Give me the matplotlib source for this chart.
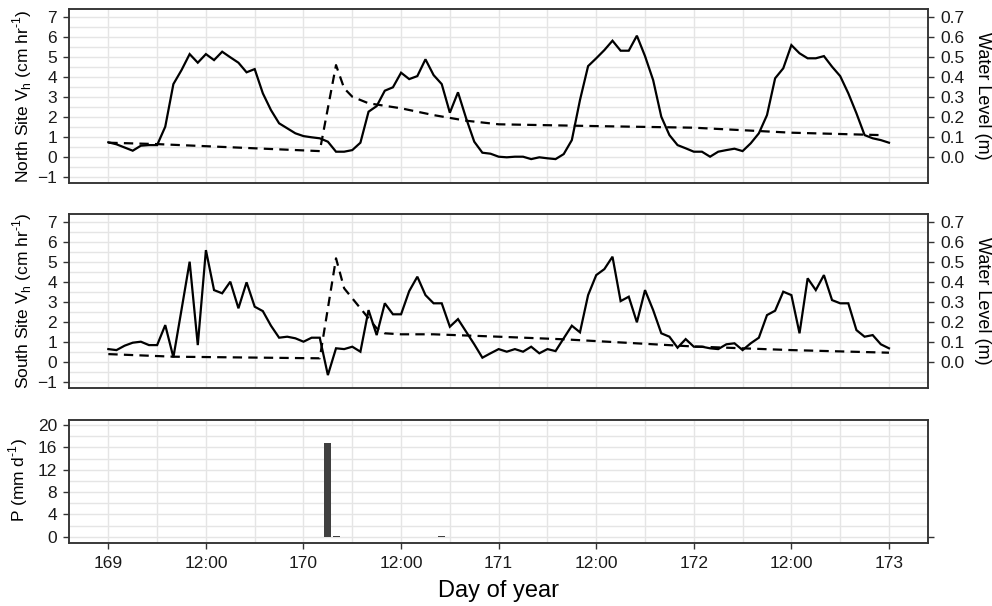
import numpy as np
import matplotlib
matplotlib.use("Agg")
import matplotlib.pyplot as plt
from matplotlib.ticker import MultipleLocator

plt.rcParams['font.family'] = ['Liberation Sans', 'DejaVu Sans']
plt.rcParams['mathtext.fontset'] = 'custom'
plt.rcParams['mathtext.rm'] = 'Liberation Sans'

# hourly sap velocity (cm/hr), hour 0 = day 169 00:00
hours = np.arange(97)
north_vh = [0.72, 0.62, 0.46, 0.30, 0.55, 0.58, 0.58, 1.5, 3.63, 4.33,
            5.13, 4.7, 5.13, 4.83, 5.25, 4.97, 4.7, 4.22, 4.38, 3.17,
            2.33, 1.67, 1.42, 1.17, 1.03, 0.97, 0.92, 0.75, 0.25, 0.25,
            0.33, 0.7, 2.25, 2.53, 3.3, 3.47, 4.2, 3.88, 4.03, 4.87,
            4.08, 3.63, 2.2, 3.22, 1.92, 0.75, 0.2, 0.15, 0.0, -0.03,
            0.0, 0.0, -0.12, -0.03, -0.08, -0.12, 0.13, 0.83, 2.83, 4.53,
            4.92, 5.33, 5.8, 5.3, 5.3, 6.05, 5.03, 3.83, 2.0, 1.08,
            0.58, 0.42, 0.25, 0.25, 0.0, 0.25, 0.33, 0.4, 0.28, 0.67,
            1.17, 2.08, 3.92, 4.42, 5.58, 5.17, 4.92, 4.92, 5.03, 4.5,
            4.03, 3.17, 2.17, 1.08, 0.92, 0.83, 0.7]
south_vh = [0.63, 0.58, 0.8, 0.95, 1.0, 0.83, 0.83, 1.83, 0.22, 2.6,
            5.0, 0.83, 5.58, 3.58, 3.42, 4.0, 2.67, 3.97, 2.75, 2.53,
            1.8, 1.2, 1.25, 1.17, 1.0, 1.2, 1.2, -0.67, 0.67, 0.63,
            0.75, 0.5, 2.58, 1.33, 2.92, 2.37, 2.37, 3.53, 4.25, 3.33,
            2.92, 2.92, 1.75, 2.13, 1.5, 0.87, 0.2, 0.42, 0.63, 0.5,
            0.63, 0.5, 0.75, 0.42, 0.63, 0.53, 1.17, 1.8, 1.47, 3.33,
            4.33, 4.63, 5.25, 3.03, 3.25, 1.97, 3.58, 2.58, 1.42, 1.25,
            0.7, 1.13, 0.75, 0.75, 0.67, 0.63, 0.87, 0.92, 0.58, 0.92,
            1.2, 2.33, 2.55, 3.5, 3.33, 1.42, 4.17, 3.58, 4.33, 3.08,
            2.92, 2.92, 1.58, 1.25, 1.33, 0.87, 0.67]

# water level (m)
north_wl_hours = [0, 6, 26, 28, 29, 30, 32, 36, 40, 44, 48, 60, 72, 84, 95]
north_wl = [0.070, 0.063, 0.028, 0.458, 0.342, 0.300, 0.267, 0.242, 0.208,
            0.180, 0.162, 0.153, 0.145, 0.120, 0.108]
south_wl_hours = [0, 8, 26, 28, 29, 30, 31, 32, 33, 34, 36, 40, 48, 56, 72,
                  84, 96]
south_wl = [0.038, 0.025, 0.017, 0.517, 0.367, 0.317, 0.267, 0.217, 0.167,
            0.142, 0.137, 0.137, 0.125, 0.112, 0.076, 0.058, 0.045]

# precipitation (mm/d)
p_hours = [27, 28, 41]
p_vals = [16.8, 0.2, 0.1]

xtick_pos = [169, 169.5, 170, 170.5, 171, 171.5, 172, 172.5, 173]
xtick_lab = ['169', '12:00', '170', '12:00', '171', '12:00', '172', '12:00', '173']


def day(h):
    return 169 + np.asarray(h) / 24.0


W, H = 992, 606
fig = plt.figure(figsize=(W / 100, H / 100), dpi=100)

frame = '#333333'
gridc = '#e5e5e5'
L, R = 69.3 / W, 928 / W


def style(ax, ymaj, ymin):
    ax.set_xlim(168.8, 173.2)
    ax.xaxis.set_major_locator(MultipleLocator(0.5))
    ax.xaxis.set_minor_locator(MultipleLocator(0.25))
    ax.yaxis.set_major_locator(MultipleLocator(ymaj))
    ax.yaxis.set_minor_locator(MultipleLocator(ymin))
    ax.grid(which='both', color=gridc, lw=1.0)
    ax.set_axisbelow(True)
    for s in ax.spines.values():
        s.set_color(frame)
        s.set_linewidth(1.1)
    ax.tick_params(which='minor', length=0)
    ax.tick_params(which='major', length=4.3, width=1.0, color=frame,
                   labelsize=12.5, pad=4.5, labelcolor='#1a1a1a')


sup = '$^{\\text{-1}}$'
panels = [
    (183.3, 'North Site V$_\\mathregular{h}$ (cm hr' + sup + ')', north_vh, north_wl_hours, north_wl),
    (388.3, 'South Site V$_\\mathregular{h}$ (cm hr' + sup + ')', south_vh, south_wl_hours, south_wl),
]
for bot, lab, vh, wh, wl in panels:
    ax = fig.add_axes([L, 1 - bot / H, R - L, 174 / H])
    style(ax, 1, 0.5)
    ax.set_ylim(-1.33, 7.37)
    ax.set_yticks(range(-1, 8))
    ax.tick_params(axis='x', which='both', bottom=False, labelbottom=False)
    ax.plot(day(hours), vh, color='black', lw=1.6, solid_joinstyle='miter')
    ax2 = ax.twinx()
    ax2.set_ylim(-0.133, 0.737)
    ax2.set_yticks(np.arange(0, 0.71, 0.1))
    ax2.set_yticklabels(['%.1f' % v for v in np.arange(0, 0.71, 0.1)])
    for s in ax2.spines.values():
        s.set_color(frame)
        s.set_linewidth(1.1)
    ax2.tick_params(length=4.3, width=1.0, color=frame, labelsize=12.5,
                    pad=4.5, labelcolor='#1a1a1a')
    ax2.plot(day(wh), wl, color='black', lw=1.6, ls=(0, (4.2, 2.8)))
    cy = 1 - (bot - 87) / H
    fig.text(22 / W, cy, lab, rotation=90, ha='center', va='center', fontsize=12.5)
    fig.text(983 / W, cy, 'Water Level (m)', rotation=-90, ha='center',
             va='center', fontsize=13)

# precipitation panel
ax3 = fig.add_axes([L, 1 - 542.7 / H, R - L, 122.7 / H])
style(ax3, 4, 2)
ax3.set_ylim(-1.07, 20.9)
ax3.bar(day(p_hours), p_vals, width=0.036, color='#404040')
ax3.set_xticks(xtick_pos)
ax3.set_xticklabels(xtick_lab)
ax3.tick_params(axis='x', pad=5)
ax3r = ax3.twinx()
ax3r.set_ylim(-1.07, 20.9)
ax3r.set_yticks([0])
ax3r.set_yticklabels([''])
ax3r.tick_params(length=4.3, width=1.0, color=frame)
for s in ax3r.spines.values():
    s.set_color(frame)
    s.set_linewidth(1.1)
fig.text(18 / W, 1 - 480 / H, 'P (mm d' + sup + ')', rotation=90,
         ha='center', va='center', fontsize=12.5)
fig.text(498 / W, 1 - 591 / H, 'Day of year', ha='center', va='center',
         fontsize=17)

fig.savefig('out.png', dpi=100)
